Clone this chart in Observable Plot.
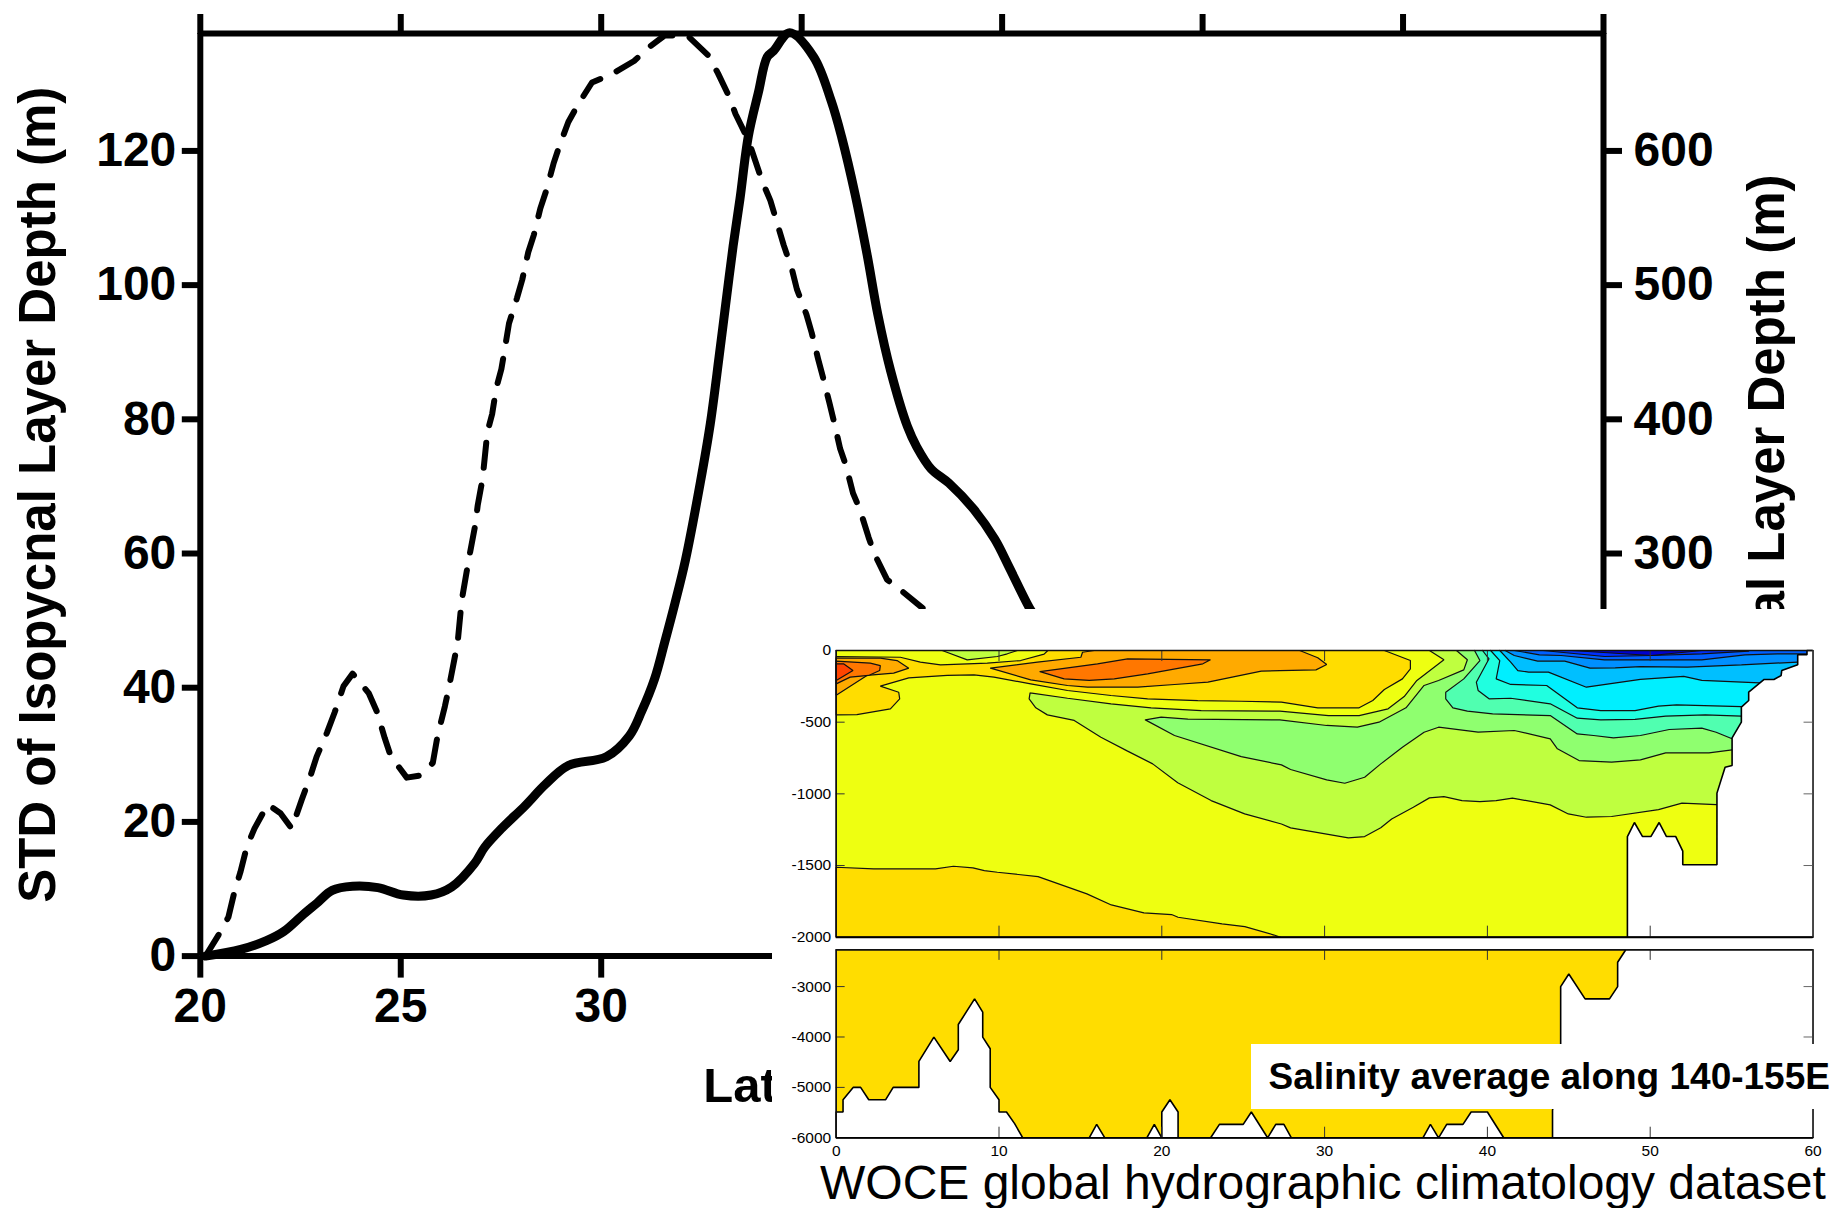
<!DOCTYPE html>
<html><head><meta charset="utf-8">
<script src="https://cdn.jsdelivr.net/npm/d3@7"></script>
<script src="https://cdn.jsdelivr.net/npm/@observablehq/plot@0.6"></script>
<style>
html,body{margin:0;padding:0;background:#fff;width:1843px;height:1208px;overflow:hidden;font-family:"Liberation Sans",Arial,sans-serif}
#main,#whitebox,#inTop,#inBottom,#salinity,#woce{position:absolute}
#main{left:0;top:0}
#whitebox{left:772px;top:609px;width:1071px;height:599px;background:#fff}
#inTop{left:772px;top:609px}
#inBottom{left:772px;top:945px}
#salinity{left:1250.5px;top:1044px;width:592.5px;height:65px;background:#fff;font-weight:bold;font-size:37px;line-height:65px;text-indent:18px;white-space:nowrap;color:#000}
#woce{left:820px;top:1161px;font-size:48px;line-height:44px;height:44px;white-space:nowrap;color:#000}
svg{display:block}
</style></head><body>
<div id="main"></div><div id="whitebox"></div><div id="inTop"></div><div id="inBottom"></div>
<div id="salinity">Salinity average along 140-155E</div>
<div id="woce">WOCE global hydrographic climatology dataset</div>
<script>
// --- main chart: latitude, layer depth (left-axis units; right axis = 5x) ---
const latTicks=[20,25,30,35,40,45,50,55];
const latLabels=[20,25,30];
const stdTicks=[0,20,40,60,80,100,120];
const meanTicks=[60,80,100,120];
const dashedSeries=[[20.13,0],[20.48,3.4],[20.7,5.8],[20.86,9.8],[21,12.5],[21.16,16.3],[21.35,19],[21.68,22.6],[22,21.3],[22.28,19],[22.53,23.3],[22.75,26.9],[22.9,29.7],[23.16,33.3],[23.35,36.3],[23.57,40.2],[23.8,42.1],[24.2,39.2],[24.4,36.5],[24.6,32.5],[24.75,29.8],[25.15,26.6],[25.47,26.9],[25.8,28.8],[25.92,32.9],[26.1,37.2],[26.2,40],[26.33,44],[26.42,46.8],[26.52,53],[26.65,57.5],[26.73,60.2],[26.86,64.3],[26.92,67.2],[27.04,71.1],[27.09,74],[27.16,78.1],[27.28,80.8],[27.38,84.6],[27.51,87.5],[27.62,91.4],[27.7,94.3],[27.9,98.1],[28.03,100.8],[28.18,104.9],[28.32,107.5],[28.48,111.4],[28.63,114.1],[28.81,118.1],[28.96,120.8],[29.18,124.3],[29.41,126.8],[29.77,130.2],[30.25,131.4],[30.82,133.4],[31.2,135.5],[31.58,137.2],[32.15,137.2],[32.66,134.3],[32.91,131.6],[33.19,128.1],[33.35,125.5],[33.67,121.6],[34.02,115.4],[34.22,112.6],[34.41,108.8],[34.55,106],[34.76,102.3],[34.88,99.4],[35.12,95.6],[35.25,92.9],[35.41,89],[35.53,86.3],[35.69,82.5],[35.8,79.8],[35.96,75.6],[36.1,73.2],[36.28,69],[36.45,66.6],[36.67,62.4],[36.81,60],[37.13,56.1],[37.52,54.3],[38.01,51.9],[38.3,50.5]];
const solidSeries=[[20.13,0],[21.01,1],[21.65,2.3],[22.09,3.7],[22.53,6],[22.91,7.9],[23.29,9.8],[23.8,10.4],[24.43,10.2],[25.06,9.1],[25.76,9.1],[26.27,10.3],[26.84,13.8],[27.09,16.2],[27.53,19.1],[28.1,22.4],[28.61,25.6],[29.18,28.4],[30.13,29.7],[30.7,32.8],[31.01,36.5],[31.33,41.3],[31.58,46.7],[31.84,52.6],[32.1,59],[32.47,70.5],[32.72,79.3],[32.94,89.3],[33.1,96.9],[33.29,105.8],[33.46,112.8],[33.67,122.2],[33.92,128.7],[34.14,134],[34.3,134.9],[34.7,137.6],[35.3,134],[35.74,127.4],[36,122],[36.33,113.6],[36.63,104.6],[36.9,95.6],[37.22,87.2],[37.64,78.9],[37.87,75.9],[38.23,72.6],[38.67,70.5],[39.29,66.6],[39.82,62.1],[40.18,57.9],[40.71,51.6],[40.9,50]];

// --- inset: salinity contours, [lat, depth] ---
const insetLatTicks=[0,10,20,30,40,50,60];
const upperDepthTicks=[0,-500,-1000,-1500,-2000];
const lowerDepthTicks=[-3000,-4000,-5000,-6000];
const panelUpper=[[0,0],[60,0],[60,-2000],[0,-2000],[0,0]];
const panelLower=[[0,-2270],[60,-2270],[60,-6000],[0,-6000],[0,-2270]];
const goldDeep=[[0,-1512],[2.3,-1523],[6.1,-1523],[7.2,-1505],[8.4,-1516],[9.1,-1535],[9.9,-1547],[12.4,-1577],[15.4,-1698],[16.9,-1775],[18.9,-1830],[20.6,-1842],[21,-1861],[23.7,-1907],[25.1,-1926],[26.9,-1985],[27.3,-2000],[0,-2000],[0,-1512]];
const yellowGreen=[[11.91,-295],[11.85,-337],[12.26,-400],[12.97,-449],[14.62,-488],[16.26,-605],[17.9,-702],[19.44,-791],[20.98,-923],[23.03,-1047],[25.09,-1140],[27.35,-1210],[27.91,-1237],[31.46,-1307],[32.46,-1298],[33.45,-1237],[34.12,-1175],[35.45,-1093],[36.44,-1028],[37.33,-1019],[38.44,-1047],[39.54,-1054],[40.54,-1047],[41.54,-1030],[43.86,-1077],[44.97,-1140],[46.08,-1163],[47.63,-1158],[50.51,-1110],[51.95,-1065],[54.05,-1075],[60,-1075],[60,0],[36.44,0],[37.33,-65],[35.67,-209],[34.89,-321],[33.9,-407],[32.12,-454],[30.24,-454],[27.25,-423],[22.42,-419],[19.34,-400],[16.88,-372],[14.21,-333],[11.91,-295]];
const green=[[18.99,-484],[20.78,-593],[24.88,-740],[27.35,-798],[27.91,-830],[30.13,-902],[31.24,-926],[32.46,-884],[33.45,-791],[34.78,-675],[36.11,-570],[37,-535],[39.43,-570],[41.65,-558],[43.86,-616],[44.3,-686],[45.63,-768],[47.63,-779],[49.4,-763],[50.95,-714],[53.61,-714],[55.03,-693],[60,-693],[60,0],[38.1,0],[38.77,-65],[38.55,-135],[37,-209],[36.11,-244],[35,-400],[33.34,-500],[32.01,-535],[30.13,-523],[27.25,-484],[21.6,-479],[19.96,-465],[18.99,-484]];
const aqua=[[39.21,0],[39.54,-70],[38.55,-198],[37.44,-291],[37.44,-337],[37.88,-400],[38.77,-423],[40.32,-442],[43.86,-454],[45.52,-582],[46.52,-593],[47.74,-609],[49.4,-593],[51.17,-551],[53.17,-542],[54.05,-570],[55.03,-616],[60,-616],[60,0],[39.21,0]];
const turquoise=[[39.7,0],[40.1,-58],[39.32,-221],[39.43,-279],[40.1,-337],[41.43,-333],[43.86,-372],[45.52,-472],[46.96,-484],[49.07,-481],[50.95,-458],[53.39,-449],[55.6,-458],[60,-458],[60,0],[39.7,0]];
const cyan=[[40.2,0],[40.76,-70],[40.54,-198],[41.43,-237],[43.64,-244],[45.52,-400],[46.96,-419],[49.07,-419],[50.51,-388],[51.62,-379],[55.6,-391],[60,-391],[60,0],[40.2,0]];
const skyBlue=[[40.76,0],[41.43,-81],[41.87,-140],[42.53,-151],[43.75,-151],[46.08,-256],[49.4,-202],[52.06,-181],[53.17,-209],[56.71,-226],[60,-226],[60,0],[40.76,0]];
const blue1=[[41.09,0],[41.65,-35],[43.09,-74],[44.75,-74],[46.3,-123],[47.85,-121],[49.4,-112],[52.28,-116],[55.6,-100],[59.06,-81],[60,-81],[60,0],[41.09,0]];
const blue2=[[41.65,0],[43.2,-30],[44.53,-35],[47.19,-65],[53.17,-65],[55.82,-30],[57.82,-23],[59.63,-23],[60,-23],[60,0],[41.65,0]];
const blue3=[[43.42,0],[47.19,-42],[50.07,-35],[53.17,-23],[56.05,-5],[56.05,0],[43.42,0]];
const navy=[[45.19,0],[50.07,-35],[53.17,0],[45.19,0]];
const goldUpper=[[0,-449],[1.27,-447],[3.33,-407],[3.9,-337],[3.84,-291],[2.71,-249],[4.46,-191],[6.82,-174],[8.46,-170],[9.69,-186],[11.95,-233],[14.21,-279],[16.88,-314],[19.13,-337],[22.21,-349],[24.88,-354],[27.35,-360],[29.58,-400],[32.12,-400],[32.96,-349],[33.67,-272],[34.78,-198],[35.27,-128],[35.27,-70],[33.67,0],[13,0],[12.77,-25],[11.33,-70],[9.28,-88],[6.41,-100],[5.17,-81],[3.94,-47],[0,-42],[0,-449]];
const surfacePocket=[[6.51,0],[8.05,-65],[9.9,-42],[10.51,-23],[11.13,0],[6.51,0]];
const orangeLeft=[[0,-53],[2.71,-53],[3.74,-70],[4.46,-123],[3.53,-158],[1.89,-174],[0.86,-249],[0,-312],[0,-53]];
const darkOrangeLeft=[[0,-74],[2.09,-88],[2.71,-105],[2.67,-140],[1.99,-174],[0.86,-186],[0,-233],[0,-74]];
const redLeft=[[0,-93],[0.45,-93],[1.03,-140],[0,-209],[0,-93]];
const orangeMid=[[9.48,-123],[12.36,-81],[15.03,-47],[15.13,-12],[15.85,0],[28.47,0],[29.58,-51],[30.13,-98],[29.47,-135],[27.25,-140],[26.11,-144],[22.83,-221],[20.78,-237],[18.52,-256],[15.44,-256],[14.21,-244],[11.95,-205],[9.48,-123]];
const darkOrangeMid=[[12.52,-147],[16.05,-93],[17.9,-58],[22.99,-65],[22.52,-93],[19.13,-163],[17.08,-198],[15.54,-209],[14,-198],[12.52,-147]];
const landUpper=[[59.63,0],[59.63,-30],[59.06,-30],[59.06,-100],[58.08,-140],[58.04,-175],[57.6,-202],[57,-202],[56.05,-290],[56.05,-349],[55.6,-395],[55.6,-500],[55.03,-609],[55.03,-802],[54.6,-814],[54.1,-995],[54.1,-1495],[52,-1495],[52,-1400],[51.57,-1298],[51,-1298],[50.55,-1200],[50.04,-1298],[49.53,-1298],[49.03,-1200],[48.6,-1298],[48.6,-2000],[60,-2000],[60,0],[59.63,0]];
const landLower=[[0,-5488],[0.42,-5488],[0.42,-5244],[1.04,-5000],[1.5,-5000],[2,-5244],[3.04,-5244],[3.5,-5000],[5.08,-5000],[5.08,-4485],[6,-4003],[7,-4485],[7.5,-4254],[7.5,-3752],[8.5,-3244],[9,-3508],[9,-4003],[9.46,-4234],[9.46,-5000],[10,-5244],[10,-5488],[10.46,-5488],[10.96,-5719],[11.46,-6000],[15.54,-6000],[16,-5733],[16.5,-6000],[19.08,-6000],[19.54,-5733],[20,-6000],[20,-5488],[20.5,-5244],[21,-5488],[21,-6000],[23,-6000],[23.54,-5733],[25,-5733],[25.5,-5488],[26.5,-6000],[27,-5733],[27.5,-5733],[27.96,-6000],[36.04,-6000],[36.5,-5733],[37,-6000],[37.5,-5733],[38.5,-5733],[39,-5488],[40,-5488],[41,-6000],[44,-6000],[44,-5455],[44.5,-4500],[44.5,-3000],[45,-2750],[46,-3244],[47.5,-3244],[48,-3000],[48,-2518],[48.5,-2270],[60,-2270],[60,-6000],[0,-6000],[0,-5488]];

const YELLOW="#EEFF11",GOLD="#FFDD00";
const upperLayers=[[panelUpper,YELLOW],[goldDeep,GOLD],[yellowGreen,"#BFFF3F"],[green,"#8FFF6F"],[aqua,"#50FFB0"],[turquoise,"#20FFE0"],[cyan,"#00EFFF"],[skyBlue,"#00BFFF"],[blue1,"#008FFF"],[blue2,"#005FFF"],[blue3,"#002FFF"],[navy,"#0000CF"],[goldUpper,GOLD],[surfacePocket,"#BFFF3F"],[orangeLeft,"#FFAA00"],[darkOrangeLeft,"#FF7700"],[redLeft,"#FF4400"],[orangeMid,"#FFAA00"],[darkOrangeMid,"#FF7700"]];
const pairX=d=>d[0],pairY=d=>d[1];
const poly=(pts,fill,sw=1.2,stroke="#111")=>Plot.line(pts,{x:pairX,y:pairY,fill,stroke,strokeWidth:sw,curve:"linear",strokeLinejoin:"miter"});
const FONT='"Liberation Sans",Arial,sans-serif';

// main plot
document.getElementById("main").append(Plot.plot({
  width:1843,height:1208,marginLeft:199.8,marginRight:240,marginTop:33,marginBottom:252.4,
  style:{fontFamily:FONT,background:"transparent",overflow:"visible"},
  x:{domain:[20,55],axis:null},y:{domain:[0,137.5],axis:null},
  marks:[
    Plot.axisX({anchor:"bottom",ticks:latTicks,tickSize:22,strokeWidth:6,fill:"none",label:null}),
    Plot.axisX({anchor:"bottom",ticks:latLabels,tickSize:0,tickPadding:32,fontSize:48,fontWeight:"bold",label:null,tickFormat:d=>String(d)}),
    Plot.axisX({anchor:"top",ticks:latTicks,tickSize:20,strokeWidth:6,fill:"none",label:null}),
    Plot.axisY({anchor:"left",ticks:stdTicks,tickSize:18,strokeWidth:6,tickPadding:6,fontSize:48,fontWeight:"bold",label:null}),
    Plot.axisY({anchor:"right",ticks:meanTicks,tickSize:18,strokeWidth:6,tickPadding:12,fontSize:48,fontWeight:"bold",label:null,tickFormat:d=>String(d*5)}),
    Plot.ruleX([20,55],{strokeWidth:6,stroke:"#000"}),
    Plot.ruleY([0,137.5],{strokeWidth:6,stroke:"#000"}),
    Plot.line(dashedSeries,{x:pairX,y:pairY,stroke:"#000",strokeWidth:6,strokeDasharray:"25,18",curve:"linear"}),
    Plot.line(solidSeries,{x:pairX,y:pairY,stroke:"#000",strokeWidth:9,curve:"catmull-rom"}),
    Plot.text(["STD of Isopycnal Layer Depth (m)"],{frameAnchor:"left",textAnchor:"middle",dx:-162,rotate:-90,fontSize:51,fontWeight:"bold"}),
    Plot.text(["Isopycnal Layer Depth (m)"],{frameAnchor:"top-right",textAnchor:"end",dx:144,dy:141,rotate:-90,fontSize:51,fontWeight:"bold"}),
    Plot.text(["Lat"],{frameAnchor:"bottom-left",dx:503,dy:146,textAnchor:"start",lineAnchor:"bottom",fontSize:49,fontWeight:"bold"})
  ]}));

// upper inset panel
document.getElementById("inTop").append(Plot.plot({
  width:1071,height:336,marginLeft:63.7,marginRight:30.5,marginTop:41,marginBottom:8.3,
  style:{fontFamily:FONT,background:"transparent",overflow:"visible"},
  x:{domain:[0,60],axis:null},y:{domain:[-2000,0],axis:null},
  marks:[
    ...upperLayers.map(([pts,c])=>poly(pts,c)),
    poly(landUpper,"#fff",1.6,"#000"),
    Plot.ruleX(insetLatTicks.slice(1,-1),{y1:0,y2:-77,stroke:"#333",strokeWidth:1}),
    Plot.ruleX(insetLatTicks.slice(1,-1),{y1:-2000,y2:-1923,stroke:"#333",strokeWidth:1}),
    Plot.ruleY(upperDepthTicks.slice(1,-1),{x1:0,x2:0.55,stroke:"#333",strokeWidth:1}),
    Plot.ruleY(upperDepthTicks.slice(1,-1),{x1:60,x2:59.45,stroke:"#666",strokeWidth:1}),
    Plot.ruleX([60],{stroke:"#555",strokeWidth:1.5}),
    Plot.ruleX([0],{stroke:"#111",strokeWidth:1.6}),
    Plot.ruleY([0],{stroke:"#111",strokeWidth:1.6}),
    Plot.ruleY([-2000],{stroke:"#000",strokeWidth:2}),
    Plot.axisY({anchor:"left",ticks:upperDepthTicks,tickSize:0,tickPadding:5,fontSize:15.5,label:null,tickFormat:d=>String(d)})
  ]}));

// lower inset panel
document.getElementById("inBottom").append(Plot.plot({
  width:1071,height:225,marginLeft:63.7,marginRight:30.5,marginTop:4.3,marginBottom:32.7,
  style:{fontFamily:FONT,background:"transparent",overflow:"visible"},
  x:{domain:[0,60],axis:null},y:{domain:[-6000,-2270],axis:null},
  marks:[
    poly(panelLower,GOLD),
    poly(landLower,"#fff",1.6,"#000"),
    Plot.ruleX(insetLatTicks.slice(1,-1),{y1:-2270,y2:-2480,stroke:"#333",strokeWidth:1}),
    Plot.ruleX(insetLatTicks.slice(1,-1),{y1:-6000,y2:-5790,stroke:"#333",strokeWidth:1}),
    Plot.ruleY(lowerDepthTicks.slice(0,-1),{x1:0,x2:0.55,stroke:"#333",strokeWidth:1}),
    Plot.ruleY(lowerDepthTicks.slice(0,-1),{x1:60,x2:59.45,stroke:"#666",strokeWidth:1}),
    Plot.ruleX([60],{stroke:"#444",strokeWidth:1.5}),
    Plot.ruleX([0],{stroke:"#111",strokeWidth:1.6}),
    Plot.ruleY([-2270],{stroke:"#111",strokeWidth:1.6}),
    Plot.ruleY([-6000],{stroke:"#000",strokeWidth:1.6}),
    Plot.axisY({anchor:"left",ticks:lowerDepthTicks,tickSize:0,tickPadding:5,fontSize:15.5,label:null,tickFormat:d=>String(d)}),
    Plot.axisX({anchor:"bottom",ticks:insetLatTicks,tickSize:0,tickPadding:7,fontSize:15.5,label:null,tickFormat:d=>String(d)})
  ]}));
</script>
</body></html>
